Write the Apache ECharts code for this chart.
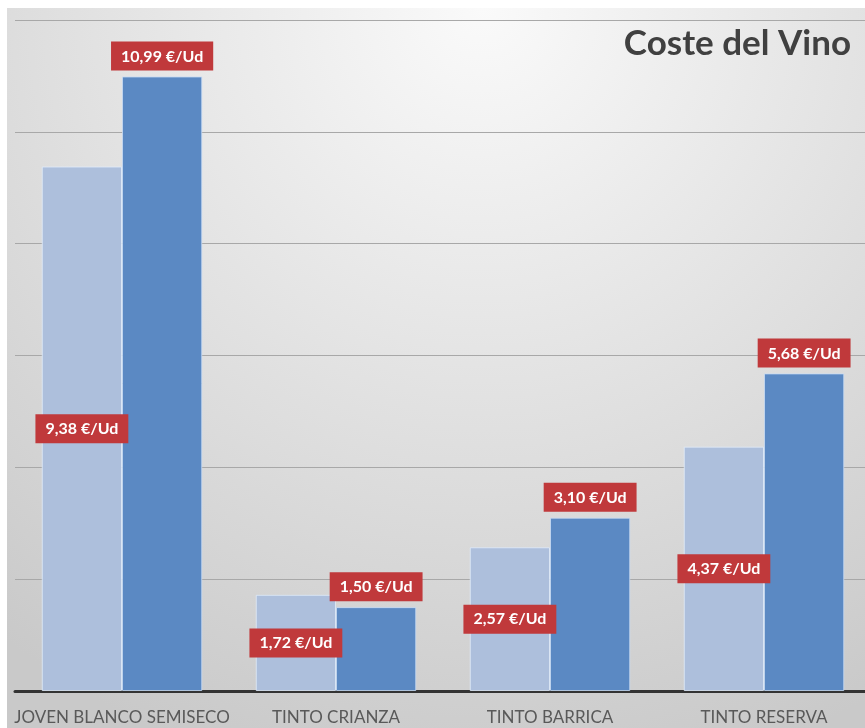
<!DOCTYPE html>
<html>
<head>
<meta charset="utf-8">
<script src="https://cdn.jsdelivr.net/npm/echarts@6/dist/echarts.min.js"></script>
<style>
html,body{margin:0;padding:0;background:#ffffff;overflow:hidden;}
#main{width:871px;height:728px;}
</style>
</head>
<body>
<div id="main"></div>
<script>
var categories = ['JOVEN BLANCO SEMISECO', 'TINTO CRIANZA', 'TINTO BARRICA', 'TINTO RESERVA'];
var lightValues = [9.38, 1.72, 2.57, 4.37];
var darkValues = [10.99, 1.50, 3.10, 5.68];
var chartTitle = 'Coste del Vino';

function fmt(p) {
  return p.value.toFixed(2).replace('.', ',') + ' €/Ud';
}

var chart = echarts.init(document.getElementById('main'), null, {renderer: 'canvas'});
var labelStyle = {
  show: true,
  formatter: fmt,
  color: '#ffffff',
  fontFamily: 'Lato',
  fontWeight: 'bold',
  fontSize: 16,
  backgroundColor: '#c0393b',
  padding: [7, 10, 6, 10]
};
chart.setOption({
  animation: false,
  backgroundColor: '#ffffff',
  graphic: [{
    type: 'rect',
    silent: true,
    z: -10,
    shape: {x: 7, y: 8, width: 864, height: 720},
    style: {
      fill: new echarts.graphic.RadialGradient(0.55, 0.0, 1.1, [
        {offset: 0, color: '#fafafa'},
        {offset: 0.45, color: '#e4e4e4'},
        {offset: 1, color: '#c9c9c9'}
      ])
    }
  }],
  title: {
    text: chartTitle,
    right: 15,
    top: 21,
    textStyle: {fontFamily: 'Lato', fontWeight: 'bold', fontSize: 35, color: '#404040'}
  },
  grid: {left: 15, right: 0, top: 20, height: 671},
  xAxis: {
    type: 'category',
    data: categories,
    axisLine: {lineStyle: {color: '#333333', width: 3}},
    axisTick: {show: false},
    axisLabel: {color: '#595959', fontFamily: 'Lato', fontSize: 17, margin: 18, interval: 0}
  },
  yAxis: {
    type: 'value',
    min: 0,
    max: 12,
    interval: 2,
    axisLabel: {show: false},
    axisLine: {show: false},
    axisTick: {show: false},
    splitLine: {lineStyle: {color: '#a8a8a8', width: 1}}
  },
  series: [{
    type: 'bar',
    data: lightValues,
    barGap: '0%',
    barCategoryGap: '25%',
    itemStyle: {color: '#adbfdc', borderColor: 'rgba(225,236,250,0.8)', borderWidth: 1},
    label: Object.assign({}, labelStyle, {position: 'inside'})
  }, {
    type: 'bar',
    data: darkValues,
    itemStyle: {color: '#5b89c3', borderColor: 'rgba(200,220,245,0.8)', borderWidth: 1},
    label: Object.assign({}, labelStyle, {position: 'top', distance: 6})
  }]
});
</script>
</body>
</html>
